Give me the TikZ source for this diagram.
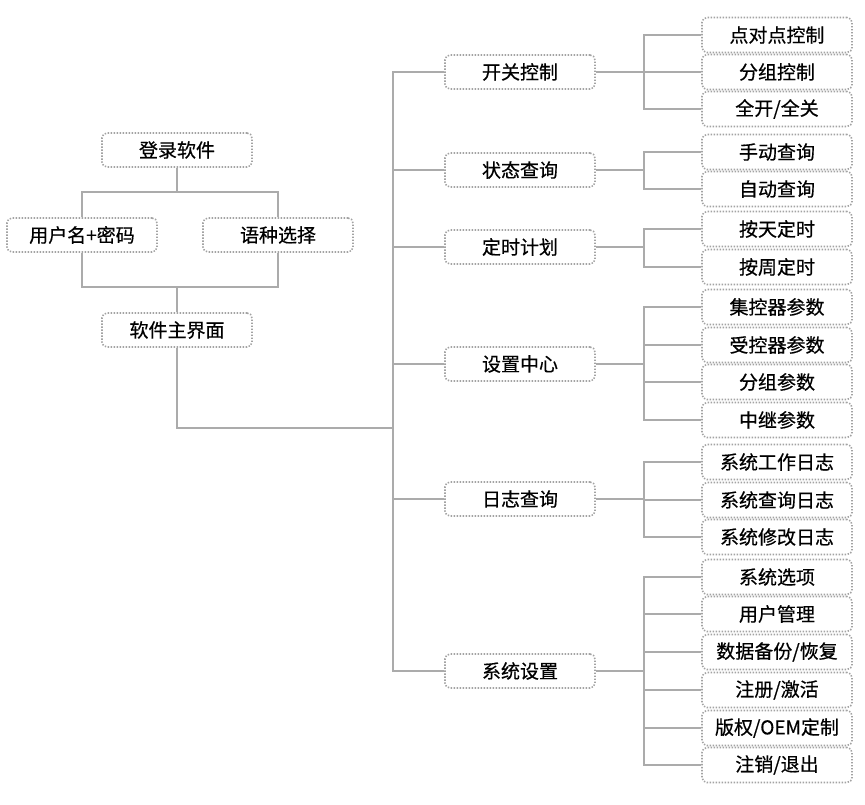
\documentclass[tikz,border=0pt]{standalone}
\usepackage{fontspec}
\setmainfont{Noto Sans CJK SC}[FakeBold=0.5]
\usepackage{xcolor}
\definecolor{wiregray}{HTML}{ABABAB}
\definecolor{dotgray}{HTML}{A3A3A3}
\usepackage{tikz}
\usetikzlibrary{positioning, calc}

\begin{document}
\begin{tikzpicture}[
        x=1pt, y=-1pt,
        box/.style={draw=dotgray, line width=1.6pt, dash pattern=on 1.4pt off 1.6pt, rounded corners=5pt, minimum width=150pt, minimum height=34pt, inner sep=0pt, align=center, fill=white, font=\fontsize{19}{21}\selectfont},
        leaf/.style={box, minimum height=35pt},
        wire/.style={draw=wiregray, line width=2pt}
    ]
        \useasboundingbox (0,0) rectangle (865,804);

        % Login part
        \node[box] (login) at (177,150) {登录软件};
        \node[box] (user) at (82,235) {用户名+密码};
        \node[box] (lang) at (278,235) {语种选择};
        \node[box] (main) at (177,330) {软件主界面};

        \coordinate (split) at (177,192);
        \coordinate (join) at (177,287);
        \coordinate (trunk) at (393,428);

        \draw[wire] (login.south) -- (split);
        \draw[wire] (split) -| (user.north);
        \draw[wire] (split) -| (lang.north);
        \draw[wire] (user.south) |- (join);
        \draw[wire] (lang.south) |- (join);
        \draw[wire] (join) -- (main.north);
        \draw[wire] (main.south) |- (trunk);

        % Main modules
        \node[box] (switch) at (520,72) {开关控制};
        \node[box] (status) at (520,170) {状态查询};
        \node[box] (timer) at (520,247) {定时计划};
        \node[box] (setup) at (520,364) {设置中心};
        \node[box] (log) at (520,499) {日志查询};
        \node[box] (system) at (520,671) {系统设置};

        \foreach \m in {switch, status, timer, setup, log, system}
            \draw[wire] (trunk) |- (\m.west);

        % Sub items
        \node[leaf] (p2p) at (777,35) {点对点控制};
        \node[leaf] (grpctl) at (777,72) {分组控制};
        \node[leaf] (allonoff) at (777,109) {全开/全关};

        \node[leaf] (manual) at (777,152) {手动查询};
        \node[leaf] (auto) at (777,189) {自动查询};

        \node[leaf] (daily) at (777,229) {按天定时};
        \node[leaf] (weekly) at (777,267) {按周定时};

        \node[leaf] (hubpar) at (777,307) {集控器参数};
        \node[leaf] (ctlpar) at (777,345) {受控器参数};
        \node[leaf] (grppar) at (777,382) {分组参数};
        \node[leaf] (relaypar) at (777,420) {中继参数};

        \node[leaf] (worklog) at (777,462) {系统工作日志};
        \node[leaf] (querylog) at (777,500) {系统查询日志};
        \node[leaf] (editlog) at (777,537) {系统修改日志};

        \node[leaf] (options) at (777,577) {系统选项};
        \node[leaf] (users) at (777,614) {用户管理};
        \node[leaf] (backup) at (777,652) {数据备份/恢复};
        \node[leaf] (activate) at (777,690) {注册/激活};
        \node[leaf] (oem) at (777,728) {版权/OEM定制};
        \node[leaf] (logout) at (777,765) {注销/退出};

        \foreach \s/\m in {p2p/switch, grpctl/switch, allonoff/switch,
                           manual/status, auto/status,
                           daily/timer, weekly/timer,
                           hubpar/setup, ctlpar/setup, grppar/setup, relaypar/setup,
                           worklog/log, querylog/log, editlog/log,
                           options/system, users/system, backup/system,
                           activate/system, oem/system, logout/system}
            \draw[wire] (\s.west) -- ++(-57,0) |- (\m.east);
    \end{tikzpicture}
\end{document}
